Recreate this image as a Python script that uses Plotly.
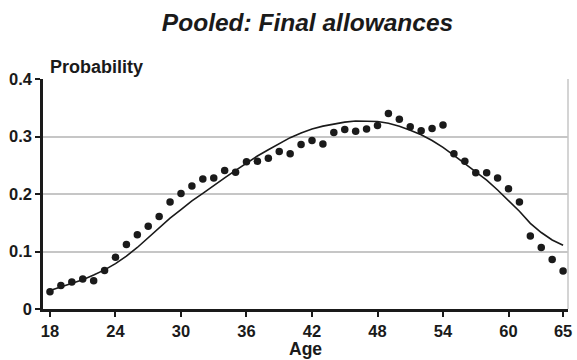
import plotly.graph_objects as go

# Age in years
ages = list(range(18, 66))

# Observed share of final allowances at each age
observed = [
    0.030, 0.041, 0.047, 0.052, 0.049, 0.067, 0.090, 0.112, 0.129, 0.144,
    0.161, 0.186, 0.201, 0.214, 0.226, 0.228, 0.241, 0.238, 0.256, 0.257,
    0.262, 0.274, 0.270, 0.286, 0.293, 0.287, 0.307, 0.312, 0.309, 0.313,
    0.319, 0.340, 0.330, 0.317, 0.310, 0.314, 0.320, 0.270, 0.257, 0.237,
    0.237, 0.228, 0.209, 0.186, 0.127, 0.107, 0.086, 0.066,
]

# Fitted (smoothed) probability curve
fitted = [
    0.032, 0.038, 0.045, 0.051, 0.059, 0.068, 0.079, 0.092, 0.107, 0.124,
    0.141, 0.158, 0.173, 0.188, 0.201, 0.215, 0.228, 0.241, 0.254, 0.266,
    0.277, 0.288, 0.298, 0.306, 0.313, 0.318, 0.322, 0.325, 0.327, 0.327,
    0.326, 0.323, 0.318, 0.311, 0.303, 0.293, 0.281, 0.267, 0.253, 0.239,
    0.224, 0.207, 0.188, 0.170, 0.149, 0.133, 0.120, 0.111,
]

x_ticks = [18, 24, 30, 36, 42, 48, 54, 60, 65]
y_ticks = [0, 0.1, 0.2, 0.3, 0.4]
y_tick_labels = ["0", "0.1", "0.2", "0.3", "0.4"]

INK = "#1a1a1a"
FONT = "Liberation Sans, Arial, Helvetica, sans-serif"

fig = go.Figure()
fig.add_trace(go.Scatter(
    x=ages, y=fitted, mode="lines",
    line=dict(color=INK, width=1.6),
    hoverinfo="skip", showlegend=False,
))
fig.add_trace(go.Scatter(
    x=ages, y=observed, mode="markers",
    marker=dict(color=INK, size=7.5, line=dict(width=0)),
    showlegend=False,
))

fig.update_layout(
    width=577, height=360,
    margin=dict(l=43, r=5, t=79, b=51),
    paper_bgcolor="white", plot_bgcolor="white",
    font=dict(family=FONT, color=INK),
    title=dict(
        text="<b><i>Pooled: Final allowances</i></b>",
        x=0.533, xanchor="center", y=1 - 22 / 360, yanchor="middle",
        font=dict(size=24.5, color=INK, family=FONT),
    ),
    xaxis=dict(
        range=[17.36, 65.45],
        tickvals=x_ticks,
        ticks="outside", ticklen=5, tickwidth=1.5, tickcolor=INK,
        showline=True, linecolor=INK, linewidth=2.5,
        showgrid=False, zeroline=False,
        tickfont=dict(size=16.5, family=FONT, color=INK, weight="bold"),
    ),
    yaxis=dict(
        range=[0, 0.4],
        tickvals=y_ticks, ticktext=y_tick_labels,
        ticks="outside", ticklen=5, tickwidth=1.5, tickcolor=INK,
        showline=True, linecolor=INK, linewidth=2.5,
        showgrid=True, gridcolor="#c6c6c6", gridwidth=1.5,
        zeroline=False,
        tickfont=dict(size=16.5, family=FONT, color=INK, weight="bold"),
    ),
    shapes=[
        dict(type="line", xref="paper", yref="paper", x0=1, x1=1, y0=0, y1=1,
             line=dict(color="#c6c6c6", width=1.5), layer="below"),
    ],
    annotations=[
        dict(text="<b>Probability</b>", xref="paper", yref="paper",
             x=0.0095, y=1, xanchor="left", yanchor="bottom",
             showarrow=False, font=dict(size=18, family=FONT, color=INK)),
        dict(text="<b>Age</b>", xref="paper", yref="paper",
             x=0.5, y=-40 / 230, xanchor="center", yanchor="middle",
             showarrow=False, font=dict(size=17.5, family=FONT, color=INK)),
    ],
)

fig.write_html("out.html")
